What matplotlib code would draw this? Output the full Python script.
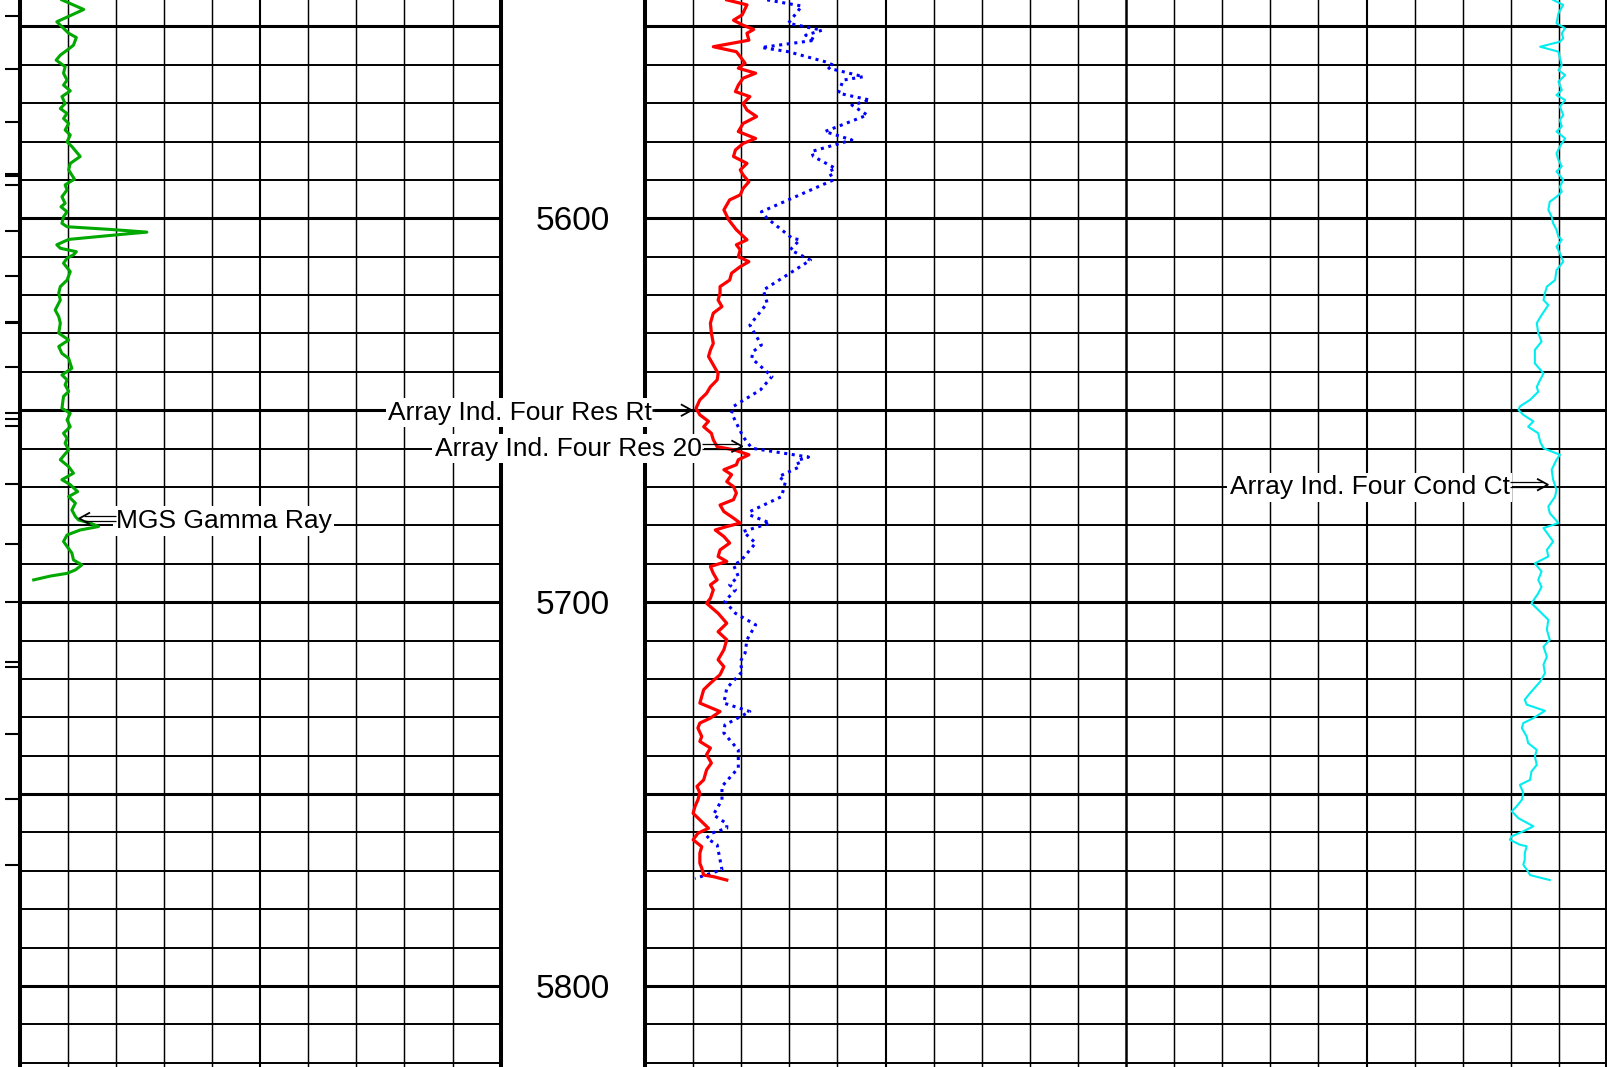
import matplotlib
matplotlib.use("Agg")
import matplotlib.pyplot as plt
from matplotlib.transforms import offset_copy

plt.rcParams['font.family'] = ['Liberation Sans', 'DejaVu Sans']

# MGS gamma ray (API), track 1, scale 0-150
gr_depth = [5543.1, 5545.6, 5548.8, 5551.8, 5552.9, 5554.9, 5556.2, 5557.5, 5558.8, 5560.5,
            5562.2, 5564.0, 5565.3, 5566.8, 5568.3, 5570.1, 5571.4, 5572.7, 5574.0, 5575.3,
            5577.0, 5578.3, 5580.1, 5581.3, 5583.9, 5585.7, 5587.4, 5589.8, 5591.3, 5592.6,
            5594.4, 5596.1, 5597.0, 5598.3, 5599.6, 5601.3, 5602.2, 5602.9, 5603.6, 5604.3,
            5605.5, 5606.9, 5607.8, 5608.7, 5609.5, 5610.4, 5611.7, 5613.9, 5616.1, 5617.8,
            5619.5, 5621.3, 5623.9, 5625.6, 5627.3, 5629.9, 5631.7, 5633.4, 5635.2, 5636.5,
            5639.1, 5640.8, 5642.1, 5643.4, 5645.1, 5646.4, 5649.5, 5650.8, 5652.5, 5654.3,
            5656.0, 5657.3, 5658.6, 5660.3, 5662.9, 5664.7, 5666.4, 5668.1, 5669.4, 5671.2,
            5672.5, 5674.2, 5676.0, 5677.7, 5678.6, 5679.4, 5680.3, 5681.2, 5682.5, 5684.2,
            5685.5, 5687.2, 5689.0, 5690.3, 5691.6, 5692.5, 5693.2, 5694.2]
gr_api = [13.2, 20.0, 11.6, 15.3, 17.7, 16.8, 14.8, 12.7, 11.4, 14.2,
          13.7, 14.8, 13.7, 15.8, 13.2, 14.2, 12.7, 14.8, 13.7, 15.3,
          14.2, 15.8, 14.8, 16.3, 18.9, 15.8, 15.3, 17.1, 14.2, 14.8,
          13.2, 14.2, 12.9, 14.8, 13.7, 13.2, 14.8, 28.3, 39.7, 30.4,
          15.3, 11.6, 12.7, 17.7, 16.8, 14.8, 13.7, 15.8, 14.8, 12.7,
          12.2, 12.7, 11.1, 12.2, 12.7, 12.2, 15.3, 12.2, 13.2, 15.3,
          16.3, 13.2, 14.8, 14.2, 15.3, 13.7, 13.2, 15.8, 14.8, 15.8,
          13.7, 14.8, 14.2, 15.3, 12.7, 15.3, 16.8, 13.2, 15.8, 18.1,
          15.3, 17.4, 16.3, 17.4, 18.4, 22.0, 24.6, 18.9, 14.8, 13.7,
          14.8, 16.3, 16.8, 19.4, 17.4, 14.8, 9.6, 4.4]

# Array induction four resistivity Rt (ohm-m), track 2, scale 0-50
rt_depth = [5543.1, 5544.4, 5547.0, 5548.4, 5549.7, 5550.8, 5551.8, 5553.6, 5555.3, 5556.6,
            5557.9, 5559.6, 5560.9, 5562.2, 5563.5, 5565.3, 5567.0, 5568.3, 5570.1, 5571.8,
            5573.5, 5575.3, 5577.4, 5579.2, 5580.5, 5582.2, 5583.9, 5585.7, 5587.4, 5588.7,
            5590.5, 5592.2, 5593.9, 5595.2, 5597.8, 5600.4, 5603.0, 5605.6, 5606.9, 5608.2,
            5610.0, 5611.3, 5612.6, 5614.3, 5616.1, 5617.8, 5619.5, 5621.3, 5623.0, 5624.7,
            5627.3, 5629.9, 5632.6,
            5634.3, 5636.0, 5638.2, 5640.4, 5642.1, 5643.9, 5645.6, 5647.3, 5649.5, 5651.2,
            5652.9, 5654.3, 5656.0, 5657.7, 5659.5, 5660.3, 5661.6, 5662.9, 5664.2, 5665.5,
            5666.8, 5668.6, 5669.9, 5671.6, 5673.3, 5674.7, 5676.4, 5678.1, 5679.4, 5680.3,
            5681.2, 5682.9, 5684.6, 5686.4, 5688.1, 5689.4, 5690.7, 5692.5, 5694.2, 5695.5,
            5696.8, 5699.0, 5700.3, 5702.9, 5705.5, 5707.7, 5709.8, 5712.4, 5715.0, 5716.8,
            5718.9, 5721.1, 5722.8, 5724.6, 5726.3,
            5728.5, 5730.2, 5731.5, 5732.8, 5735.0, 5736.3, 5738.0, 5739.7, 5741.9, 5743.7,
            5746.3, 5748.0, 5749.7, 5751.5, 5753.2, 5755.0, 5756.7, 5758.9, 5760.2, 5761.9,
            5763.7, 5765.4, 5768.0, 5769.3, 5771.1, 5771.5, 5772.4]
rt_ohmm = [8.5, 10.6, 10.1, 9.2, 10.2, 11.3, 10.6, 10.8, 7.1, 9.5,
           9.9, 10.4, 9.7, 11.5, 10.2, 9.7, 9.4, 10.9, 10.2, 10.6,
           11.6, 10.2, 9.7, 11.5, 10.2, 9.4, 9.2, 10.6, 9.9, 10.2,
           10.8, 10.2, 9.9, 8.8, 8.2, 8.7, 9.5, 10.6, 9.5, 9.9,
           9.7, 10.8, 9.9, 9.0, 8.8, 7.8, 7.8, 7.6, 8.0, 7.1,
           6.8, 6.9, 7.1,
           6.8, 6.6, 7.1, 7.6, 7.5, 6.8, 6.4, 5.7, 5.3, 5.7,
           6.6, 6.1, 6.9, 7.1, 7.5, 9.2, 10.8, 9.7, 9.5, 8.2,
           9.0, 8.5, 9.2, 9.5, 9.2, 7.8, 8.2, 9.2, 9.9, 8.5,
           7.3, 8.2, 8.8, 7.8, 7.6, 8.5, 6.8, 7.1, 7.5, 6.8,
           7.1, 6.8, 6.4, 7.6, 8.5, 7.6, 8.5, 8.2, 7.6, 8.2,
           7.8, 6.8, 6.1, 5.9, 5.7,
           7.8, 6.8, 5.7, 5.5, 5.9, 5.7, 6.8, 6.4, 6.9, 6.4,
           6.1, 5.4, 5.7, 5.5, 5.2, 5.0, 5.7, 6.6, 5.5, 5.0,
           5.9, 5.7, 5.7, 5.9, 6.1, 7.1, 8.5]

# Array induction four resistivity 20 in (ohm-m), track 2, scale 0-50
r20_depth = [5543.1, 5544.7, 5549.2, 5551.0, 5552.3, 5553.6, 5555.5, 5556.6, 5559.2, 5560.1,
             5560.9, 5563.1, 5564.0, 5567.4, 5569.2, 5570.5, 5573.1, 5577.4, 5579.6, 5582.6,
             5583.9, 5587.0, 5587.8, 5590.0, 5598.3, 5600.0, 5605.2, 5605.6, 5608.2, 5610.9,
             5618.7, 5622.1, 5627.8, 5633.0, 5634.8, 5636.5, 5641.2, 5644.7, 5649.0, 5650.8,
             5656.9, 5659.9, 5662.2, 5663.1, 5664.7, 5667.3, 5668.6, 5672.5, 5676.4, 5677.3,
             5679.4, 5681.6, 5684.6, 5689.4, 5690.3, 5693.3, 5695.5, 5696.8, 5699.8, 5702.9,
             5705.9, 5709.8, 5713.3, 5715.5, 5718.1, 5722.4, 5726.3, 5728.5, 5732.0, 5734.1,
             5738.5, 5743.2, 5748.0, 5751.5, 5755.4, 5757.7, 5758.9, 5760.2, 5761.5, 5763.2,
             5769.7, 5772.0]
r20_ohmm = [12.7, 16.3, 14.9, 18.4, 16.7, 17.7, 12.1, 14.9, 18.7, 19.6,
            19.1, 22.7, 20.6, 20.1, 23.4, 21.5, 23.1, 18.7, 21.5, 17.3,
            17.5, 19.8, 19.1, 19.6, 12.1, 12.7, 15.3, 16.1, 15.1, 17.2,
            12.3, 12.7, 10.9, 12.1, 11.2, 11.1, 13.2, 12.0, 9.2, 9.0,
            10.2, 11.1, 17.0, 15.8, 16.1, 13.9, 14.6, 14.2, 10.9, 10.9,
            13.0, 10.2, 11.5, 9.9, 9.2, 9.7, 8.8, 9.4, 8.3, 9.4,
            11.5, 10.6, 10.4, 9.9, 10.1, 8.5, 8.2, 10.9, 8.3, 8.2,
            9.7, 9.7, 8.0, 8.0, 7.1, 8.5, 8.5, 6.9, 6.4, 7.5,
            8.0, 5.2]

# Array induction four conductivity Ct (mmho/m), track 3, scale 1000-0
ct_depth = [5543.1, 5544.4, 5546.6, 5549.2, 5550.5, 5551.8, 5553.1, 5554.0, 5555.3, 5556.6,
            5558.3, 5560.1, 5561.4, 5562.7, 5564.4, 5566.6, 5567.9, 5569.2, 5570.9, 5573.1,
            5574.4, 5576.1, 5577.4, 5579.2, 5581.3, 5583.1, 5584.8, 5586.5, 5587.8, 5590.0,
            5591.8, 5593.1, 5594.4, 5595.7, 5597.8, 5599.6, 5601.3, 5603.0, 5604.8, 5605.6,
            5607.4, 5609.1, 5611.3, 5613.5, 5616.1, 5617.8, 5619.5, 5621.3, 5622.6, 5625.2,
            5627.3, 5629.9, 5632.1, 5634.3, 5637.8, 5640.4, 5642.1, 5643.9, 5645.2, 5647.3,
            5649.0, 5649.9, 5651.2, 5652.9, 5654.3, 5656.0, 5658.2, 5659.9, 5661.6, 5662.9,
            5665.5, 5668.1, 5670.7, 5672.5, 5675.1, 5676.8, 5679.4, 5680.7, 5684.2, 5686.4,
            5688.1, 5689.9, 5692.0, 5694.2, 5696.0, 5697.7, 5700.3, 5702.0, 5704.6, 5707.2,
            5709.8, 5711.6, 5714.2, 5716.3, 5718.5, 5720.7, 5723.7, 5725.4, 5726.7, 5728.3,
            5730.2, 5731.5, 5732.8, 5735.0, 5736.7, 5738.5, 5740.2, 5742.4, 5744.1, 5746.3,
            5747.6, 5749.7, 5751.5, 5753.2, 5754.5, 5756.3, 5758.4, 5759.7, 5761.0, 5761.9,
            5763.2, 5763.6, 5765.4, 5767.1, 5768.4, 5770.2, 5771.1, 5772.4]
ct_mmho = [112, 91, 101, 105, 87, 94, 91, 98, 139, 101,
           98, 94, 101, 87, 101, 94, 105, 87, 98, 91,
           98, 94, 105, 87, 98, 105, 101, 94, 105, 91,
           98, 94, 105, 119, 122, 115, 112, 105, 101, 94,
           105, 98, 91, 105, 108, 125, 129, 132, 122, 136,
           146, 143, 136, 150, 150, 132, 139, 146, 143, 160,
           181, 184, 174, 153, 164, 143, 139, 132, 98, 105,
           115, 112, 105, 108, 122, 119, 101, 132, 112, 125,
           122, 150, 136, 143, 136, 143, 157, 143, 122, 125,
           119, 132, 125, 132, 129, 139, 160, 171, 167, 129,
           153, 174, 177, 167, 164, 146, 150, 146, 157, 160,
           181, 174, 177, 188, 198, 184, 153, 174, 198, 202,
           181, 167, 171, 171, 174, 164, 160, 119]

# depth marks along the left edge
mark_depth = [5547.3, 5561.1, 5574.9, 5588.4, 5588.9, 5591.3, 5603.3, 5615.1, 5626.9, 5627.4,
              5638.8, 5650.8, 5652.3, 5654.0, 5669.3, 5684.8, 5700.0, 5715.5, 5716.8, 5734.3,
              5751.4, 5768.4]

depth_labels = [5600, 5700, 5800]

W, H = 1607, 1067
TOP, BASE = 5543.13, 5821.1

fig = plt.figure(figsize=(W / 100, H / 100), dpi=100)
fig.patch.set_facecolor('white')


def add_track(x0, x1):
    ax = fig.add_axes([x0 / W, 0, (x1 - x0) / W, 1])
    ax.set_ylim(BASE, TOP)
    ax.set_xticks([])
    ax.set_yticks([])
    ax.patch.set_visible(False)
    for s in ax.spines.values():
        s.set_visible(False)
    return ax


def grid(ax, xmin, xmax):
    ax.set_xlim(xmin, xmax)
    for d in range(5550, 5830, 10):
        ax.axhline(d, color='black', lw=2.2 if d % 50 == 0 else 1.4, zorder=1)
    step = (xmax - xmin) / 10
    for i in range(1, 10):
        ax.axvline(xmin + i * step, color='black', lw=1.5 if i == 5 else 1.05, zorder=1)


def border(ax, side, lw=2.9):
    ax.spines[side].set_visible(True)
    ax.spines[side].set_linewidth(lw)


def leader(ax, label, tip, tail, double=True):
    x, d = tip
    to_px = ax.transData.transform
    from_px = ax.transData.inverted().transform
    px, py = to_px((x, d))
    tx = to_px((tail, d))[0]
    sign = 1 if tx < px else -1
    ax.text(tail, d, label, ha='right' if sign > 0 else 'left', va='center_baseline',
            fontsize=19, zorder=10,
            bbox=dict(boxstyle='square,pad=0.1', fc='white', ec='none'))
    # open chevron head
    head = from_px([(px - sign * 10, py + 5.5), (px, py), (px - sign * 10, py - 5.5)])
    ax.plot(head[:, 0], head[:, 1], color='black', lw=1.3, zorder=11, clip_on=False)
    if double:
        end = from_px((px - sign * 4.5, py))[0]
        for dy in (-2.2, 2.2):
            tr = offset_copy(ax.transData, fig=fig, x=0, y=dy, units='dots')
            ax.plot([tail, end], [d, d], color='black', lw=0.9, transform=tr,
                    zorder=11, solid_capstyle='butt', clip_on=False)
    else:
        ax.plot([tail, x], [d, d], color='black', lw=2.0, zorder=11,
                solid_capstyle='butt', clip_on=False)


gr_ax = add_track(19.6, 500.6)
depth_ax = add_track(500.6, 645)
res_ax = add_track(645, 1126)
cond_ax = add_track(1126, 1607)
mark_ax = add_track(0, 19.6)

grid(gr_ax, 0, 150)
grid(res_ax, 0, 50)
grid(cond_ax, 1000, 0)
depth_ax.set_xlim(0, 1)
mark_ax.set_xlim(0, 1)

border(gr_ax, 'left')
border(gr_ax, 'right')
border(res_ax, 'left')
border(res_ax, 'right', 1.8)
border(cond_ax, 'right')

for d in depth_labels:
    depth_ax.text(0.5, d, str(d), ha='center', va='center_baseline', fontsize=24)

mark_ax.hlines(mark_depth, 0.24, 1.0, color='black', lw=1.5)

gr_ax.plot(gr_api, gr_depth, color='#00a800', lw=2.2, zorder=3)
res_ax.plot(r20_ohmm, r20_depth, color='#0000ff', lw=2.2, linestyle=(0, (1, 1.5)), zorder=3)
res_ax.plot(rt_ohmm, rt_depth, color='#ff0000', lw=2.3, zorder=4)
cond_ax.plot(ct_mmho, ct_depth, color='#00eef0', lw=1.5, zorder=3)

leader(gr_ax, 'MGS Gamma Ray', (18.6, 5678.2), 30.0)
leader(res_ax, 'Array Ind. Four Res Rt', (4.85, 5650.0), 0.73, double=False)
leader(res_ax, 'Array Ind. Four Res 20', (10.1, 5659.4), 5.9)
leader(cond_ax, 'Array Ind. Four Cond Ct', (123, 5669.4), 202)

fig.savefig('out.png', dpi=100, facecolor='white')
